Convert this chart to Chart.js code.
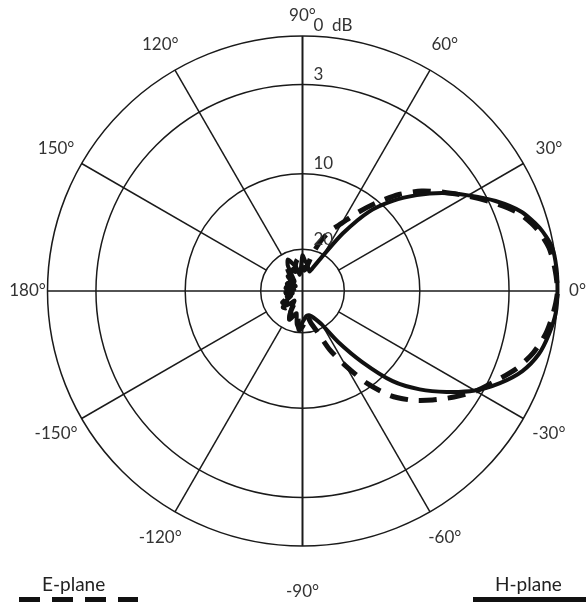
<!DOCTYPE html>
<html>
<head>
<meta charset="utf-8">
<script src="https://cdn.jsdelivr.net/npm/chart.js@4.4.0/dist/chart.umd.min.js"></script>
<style>
  html, body { margin: 0; padding: 0; background: #fff; }
  canvas { display: block; }
</style>
</head>
<body>
<canvas id="patternChart" width="586" height="602"></canvas>
<script>
// measured pattern, angle in degrees, level in dB below the peak
const angles = [
  -180, -175, -170, -165, -160, -155, -150, -145, -140, -135, -130, -125,
  -120, -115, -110, -105, -100, -95, -90, -85, -80, -75, -70, -65,
  -60, -55, -50, -45, -40, -35, -30, -25, -20, -15, -10, -5,
  0, 5, 10, 15, 20, 25, 30, 35, 40, 45, 50, 55,
  60, 65, 70, 75, 80, 85, 90, 95, 100, 105, 110, 115,
  120, 125, 130, 135, 140, 145, 150, 155, 160, 165, 170, 175, 180
];
const hPlane = [
  26.5, 27, 26, 27.5, 26, 27, 25.5, 25, 24.5, 25.5, 27, 26,
  24, 22.4, 23.5, 24.5, 22, 21, 22.5, 23.5, 24, 24, 23.5, 22.5,
  20.7, 17.3, 13.3, 9.2, 7.2, 5.4, 3.6, 2.3, 1.3, 0.65, 0.3, 0.05,
  0, 0, 0.1, 0.6, 1.4, 2.6, 4.2, 5.8, 7.5, 9.2, 11.8, 16.2,
  20.3, 23.5, 25, 24.5, 23.5, 22.8, 21.5, 25, 26, 24, 23, 21.7,
  23, 26, 27, 25, 26.5, 28, 26, 27, 27.8, 26, 28, 27, 26.5
];
const ePlane = [
  27, 26, 27.5, 26.5, 25, 26, 24.5, 25.5, 24, 24.3, 25.5, 26.5,
  24.5, 23, 24, 22.8, 23.5, 20.7, 21.5, 23, 24, 22, 19.8, 16.9,
  14.1, 10.6, 8.5, 7.1, 5.9, 4.7, 3.5, 2.6, 1.7, 1.0, 0.5, 0.2,
  0, 0.1, 0.3, 0.8, 1.6, 2.8, 4.3, 5.7, 7.0, 8.5, 10.3, 12.9,
  15.2, 16.7, 18.5, 21, 24, 25, 24, 22, 22.5, 23.5, 25, 24.5,
  22.5, 24, 26, 27, 25.5, 26.5, 27, 26, 27.5, 27, 26, 27.5, 27
];

const ringLevels = [0, 3, 10, 20];
const ringLabels = ["0  dB", "3", "10", "20"];
const spokeAngles = [0, 30, 60, 90, 120, 150, 180, -150, -120, -90, -60, -30];
const spokeLabels = ["0°", "30°", "60°", "90°", "120°", "150°", "180°", "-150°", "-120°", "-90°", "-60°", "-30°"];

// radial axis of the plot: dB -> fraction of the outer radius
const axisDb = [0, 3, 10, 20, 30];
const axisR = [1, 0.81, 0.46, 0.164, 0];

function radiusOf(db) {
  if (db <= axisDb[0]) return axisR[0];
  for (let i = 1; i < axisDb.length; i++) {
    if (db <= axisDb[i]) {
      const t = (db - axisDb[i - 1]) / (axisDb[i] - axisDb[i - 1]);
      return axisR[i - 1] + t * (axisR[i] - axisR[i - 1]);
    }
  }
  return 0;
}

function toPoints(levels) {
  return angles.map((a, i) => {
    const r = radiusOf(levels[i]);
    const rad = (a * Math.PI) / 180;
    return { x: r * Math.cos(rad), y: r * Math.sin(rad) };
  });
}

const FONT = "Lato, 'DejaVu Sans', sans-serif";
const INK = "#1a1a1a";

const polarGrid = {
  id: "polarGrid",
  beforeDatasetsDraw(chart) {
    const { ctx, scales } = chart;
    const cx = scales.x.getPixelForValue(0);
    const cy = scales.y.getPixelForValue(0);
    const R = scales.x.getPixelForValue(1) - cx;
    ctx.save();
    ctx.strokeStyle = INK;
    ctx.lineWidth = 1.5;
    ringLevels.forEach((lv) => {
      ctx.beginPath();
      ctx.arc(cx, cy, R * radiusOf(lv), 0, Math.PI * 2);
      ctx.stroke();
    });
    spokeAngles.forEach((a) => {
      const rad = (a * Math.PI) / 180;
      const inner = a % 90 === 0 ? 0 : R * radiusOf(20);
      ctx.lineWidth = Math.abs(a) === 90 ? 2 : 1.5;
      ctx.beginPath();
      ctx.moveTo(cx + inner * Math.cos(rad), cy - inner * Math.sin(rad));
      ctx.lineTo(cx + R * Math.cos(rad), cy - R * Math.sin(rad));
      ctx.stroke();
    });
    ctx.restore();
  },
  afterDraw(chart) {
    const { ctx, scales } = chart;
    const cx = scales.x.getPixelForValue(0);
    const cy = scales.y.getPixelForValue(0);
    const R = scales.x.getPixelForValue(1) - cx;
    ctx.save();
    ctx.fillStyle = "#333";
    ctx.font = "17px " + FONT;
    ctx.textAlign = "center";
    ctx.textBaseline = "middle";
    spokeAngles.forEach((a, i) => {
      const rad = (a * Math.PI) / 180;
      const s = Math.sin(rad);
      const off = R + 20 + 11 * Math.abs(Math.sin(2 * rad)) + (a === -90 ? 26 : 0);
      ctx.fillText(spokeLabels[i], cx + off * Math.cos(rad), cy - off * s);
    });
    ctx.font = "17px " + FONT;
    ctx.textAlign = "left";
    ringLevels.forEach((lv, i) => {
      ctx.fillText(ringLabels[i], cx + 11, cy - R * radiusOf(lv) - 10);
    });

    // legend in the two bottom corners
    const h = chart.data.datasets[0];
    const e = chart.data.datasets[1];
    ctx.font = "19px " + FONT;
    ctx.fillStyle = "#222";
    ctx.fillText(e.label, 42, 585);
    ctx.fillText(h.label, 495, 585);
    ctx.lineWidth = 6;
    ctx.strokeStyle = e.borderColor;
    ctx.setLineDash([21, 12]);
    ctx.beginPath();
    ctx.moveTo(19, 600);
    ctx.lineTo(138, 600);
    ctx.stroke();
    ctx.setLineDash([]);
    ctx.strokeStyle = h.borderColor;
    ctx.beginPath();
    ctx.moveTo(473, 600);
    ctx.lineTo(586, 600);
    ctx.stroke();
    ctx.restore();
  }
};

new Chart(document.getElementById("patternChart"), {
  type: "scatter",
  data: {
    datasets: [
      {
        label: "H-plane",
        data: toPoints(hPlane),
        showLine: true,
        borderColor: "#111",
        borderWidth: 4,
        pointRadius: 0,
        tension: 0.25,
        clip: false,
      },
      {
        label: "E-plane",
        data: toPoints(ePlane),
        showLine: true,
        borderColor: "#111",
        borderWidth: 5,
        borderDash: [18, 11],
        pointRadius: 0,
        tension: 0.25,
        clip: false,
      },
    ],
  },
  options: {
    responsive: false,
    animation: false,
    layout: { padding: { left: 47.5, right: 28.5, top: 36, bottom: 56 } },
    scales: {
      x: { type: "linear", min: -1, max: 1, display: false },
      y: { type: "linear", min: -1, max: 1, display: false },
    },
    plugins: {
      legend: { display: false },
      tooltip: { enabled: false },
    },
  },
  plugins: [polarGrid],
});
</script>
</body>
</html>
